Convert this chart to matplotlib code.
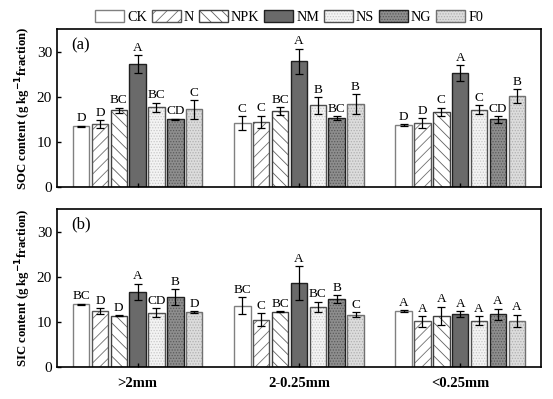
import matplotlib
matplotlib.use("Agg")
import matplotlib.pyplot as plt
import numpy as np

plt.rcParams['font.family'] = ['Liberation Serif', 'DejaVu Serif']
plt.rcParams['hatch.linewidth'] = 0.6

# aggregate size classes and treatments
sizes = [">2mm", "2-0.25mm", "<0.25mm"]
treatments = ["CK", "N", "NPK", "NM", "NS", "NG", "F0"]

# SOC content, rows = treatments, columns = size classes
soc_mean = [[13.5, 14.2, 13.8],
            [14.0, 14.5, 14.2],
            [17.0, 16.8, 16.7],
            [27.2, 27.9, 25.3],
            [17.7, 18.1, 17.1],
            [15.0, 15.3, 15.0],
            [17.2, 18.4, 20.2]]
soc_err = [[0.15, 1.5, 0.15],
           [0.8, 1.3, 1.1],
           [0.6, 0.9, 0.9],
           [2.0, 2.8, 1.7],
           [1.0, 1.8, 1.0],
           [0.2, 0.4, 0.7],
           [2.0, 2.2, 1.5]]
soc_letters = [["D", "C", "D"],
               ["D", "C", "D"],
               ["BC", "BC", "C"],
               ["A", "A", "A"],
               ["BC", "B", "C"],
               ["CD", "BC", "CD"],
               ["C", "B", "B"]]

# SIC content
sic_mean = [[13.9, 13.6, 12.4],
            [12.4, 10.5, 10.1],
            [11.4, 12.3, 11.4],
            [16.7, 18.6, 11.7],
            [12.0, 13.3, 10.3],
            [15.5, 15.0, 11.7],
            [12.2, 11.6, 10.2]]
sic_err = [[0.15, 1.9, 0.25],
           [0.7, 1.4, 1.2],
           [0.1, 0.1, 2.0],
           [1.8, 3.8, 0.7],
           [1.0, 1.2, 1.0],
           [1.8, 0.9, 1.2],
           [0.2, 0.5, 1.4]]
sic_letters = [["BC", "BC", "A"],
               ["D", "C", "A"],
               ["D", "BC", "A"],
               ["A", "A", "A"],
               ["CD", "BC", "A"],
               ["B", "B", "A"],
               ["D", "C", "A"]]

# face, hatch colour, hatch, outline
styles = [("white", "none", "", "#808080"),
          ("white", "#707070", "///", "#555555"),
          ("white", "#606060", "\\\\\\", "#404040"),
          ("#6a6a6a", "none", "", "#202020"),
          ("#f3f3f3", "#c8c8c8", "......", "#505050"),
          ("#8e8e8e", "#5a5a5a", "......", "#202020"),
          ("#dcdcdc", "#b0b0b0", "......", "#707070")]

step = 0.117
width = 0.102


def panel(ax, means, errs, letters, ylabel, tag):
	x = np.arange(len(sizes))
	handles = []
	for i, t in enumerate(treatments):
		face, hcol, hatch, edge = styles[i]
		pos = x + (i - 3) * step
		b1 = ax.bar(pos, means[i], width, color=face, edgecolor=hcol, hatch=hatch, linewidth=0)
		b2 = ax.bar(pos, means[i], width, fill=False, edgecolor=edge, linewidth=1.0)
		ax.errorbar(pos, means[i], yerr=errs[i], fmt='none', ecolor='black', elinewidth=0.9, capsize=3, capthick=0.9)
		for j in range(len(sizes)):
			ax.text(pos[j], means[i][j] + errs[i][j] + 0.3, letters[i][j], ha='center', va='bottom', fontsize=9.5)
		handles.append((b1[0], b2[0]))
	ax.set_xlim(-0.5, 2.5)
	ax.set_ylim(0, 35)
	ax.set_yticks([0, 10, 20, 30])
	ax.set_xticks(x)
	ax.tick_params(direction='in', labelsize=11, length=3, width=1)
	ax.set_ylabel(ylabel, fontsize=9.2, fontweight='bold', labelpad=3)
	ax.text(0.03, 0.9, tag, transform=ax.transAxes, fontsize=12, va='center')
	for s in ax.spines.values():
		s.set_linewidth(1.2)
	return handles


fig = plt.figure(figsize=(5.53, 3.99), dpi=100)
ax1 = fig.add_axes([0.103, 0.531, 0.875, 0.396])
ax2 = fig.add_axes([0.103, 0.080, 0.875, 0.396])

h = panel(ax1, soc_mean, soc_err, soc_letters, "SOC content (g kg$^{\\mathbf{-1}}$fraction)", "(a)")
panel(ax2, sic_mean, sic_err, sic_letters, "SIC content (g kg$^{\\mathbf{-1}}$fraction)", "(b)")
ax1.set_xticklabels([])
ax2.set_xticklabels(sizes, fontsize=10.5, fontweight='bold')
ax2.tick_params(axis='x', pad=7)

fig.legend(h, treatments, loc='center', bbox_to_anchor=(0.523, 0.957), ncol=7, frameon=False,
		   fontsize=10.2, handlelength=2.05, handleheight=0.85, handletextpad=0.2, columnspacing=0.35,
		   borderpad=0)

fig.savefig("out.png", dpi=100)
